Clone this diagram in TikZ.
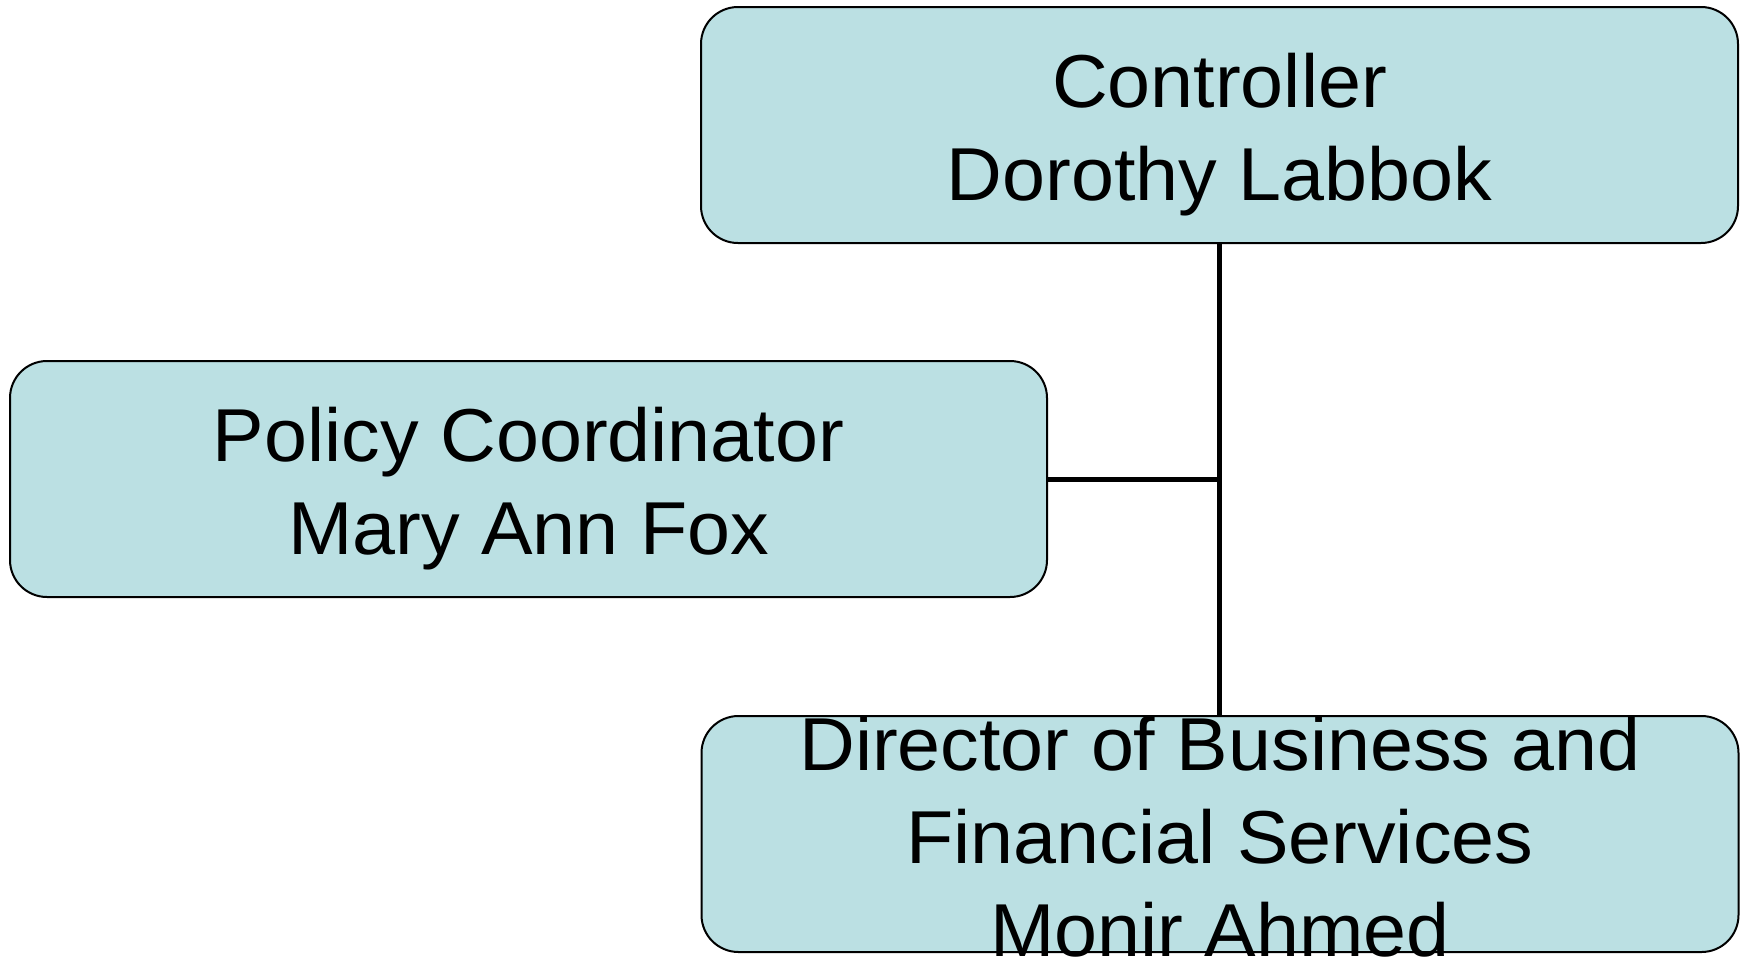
\documentclass[tikz,border=0pt]{standalone}
\usepackage{fontspec}
\setmainfont{Liberation Sans}[FakeStretch=1.03]
\definecolor{boxfill}{RGB}{187,224,227}
\begin{document}
\begin{tikzpicture}[x=1pt,y=-1pt,
  orgbox/.style={draw=black, line width=2pt, fill=boxfill, rounded corners=37pt,
    minimum width=1037pt, minimum height=236pt, inner sep=0pt},
  lbl/.style={anchor=base, inner sep=0pt, font=\fontsize{75}{93}\selectfont},
  link/.style={draw=black, line width=5pt}]
\useasboundingbox (0,0) rectangle (1748,956);
\node[orgbox] (ctrl) at (1219.5,125) {};
\node[orgbox] (policy) at (528.5,479) {};
\node[orgbox] (dir) at (1220,834) {};
\draw[link] (ctrl.south) -- (ctrl.south |- dir.north) coordinate (dirtop);
\draw[link] (policy.east) -- (policy.east -| ctrl.south) coordinate (junc);
\node[lbl] (c1) at (1219.5,107) {Controller};
\node[lbl] (c2) at (1219.5,200) {Dorothy Labbok};
\node[lbl] (p1) at (528.5,461) {Policy Coordinator};
\node[lbl] (p2) at (528.5,554) {Mary Ann Fox};
\node[lbl] (d1) at (1220,770) {Director of Business and};
\node[lbl] (d2) at (1220,863) {Financial Services};
\node[lbl] (d3) at (1220,956) {Monir Ahmed};
\end{tikzpicture}
\end{document}
